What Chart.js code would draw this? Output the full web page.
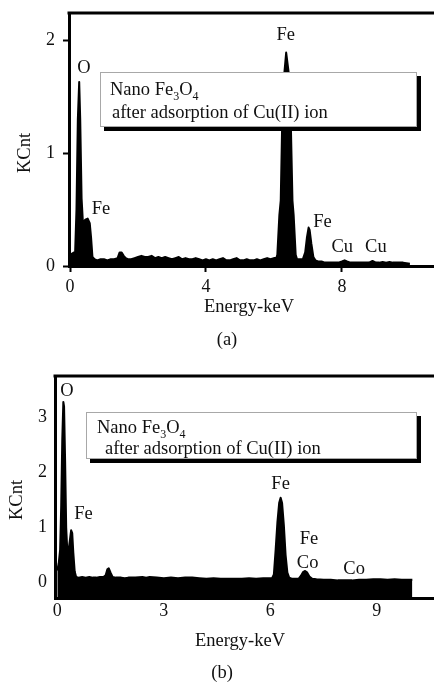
<!DOCTYPE html>
<html>
<head>
<meta charset="utf-8">
<script src="https://cdn.jsdelivr.net/npm/chart.js@4.4.1/dist/chart.umd.min.js"></script>
<style>
  html, body { margin: 0; padding: 0; background: #fff; overflow: hidden; }
  body { width: 434px; height: 683px; position: relative; }
  canvas { position: absolute; left: 0; }
  #cA { top: 0; }
  #cB { top: 340px; }
</style>
</head>
<body>
<canvas id="cA" width="434" height="360"></canvas>
<canvas id="cB" width="434" height="343"></canvas>
<script>
// ---------- Data: panel (a) ----------
const energyA = [0.00,0.06,0.12,0.15,0.19,0.23,0.27,0.30,0.34,0.38,0.45,0.52,0.58,0.62,0.66,0.72,0.80,0.90,1.00,1.10,1.20,1.30,1.40,1.46,1.52,1.58,1.64,1.70,1.80,1.90,2.00,2.10,2.20,2.30,2.40,2.50,2.60,2.70,2.80,2.90,3.00,3.10,3.20,3.30,3.40,3.50,3.60,3.70,3.80,3.90,4.00,4.10,4.20,4.30,4.40,4.50,4.60,4.70,4.80,4.90,5.00,5.10,5.20,5.30,5.40,5.50,5.60,5.70,5.80,5.90,6.00,6.07,6.10,6.16,6.20,6.24,6.31,6.36,6.38,6.43,6.50,6.545,6.58,6.64,6.68,6.75,6.85,6.92,6.97,7.02,7.05,7.10,7.16,7.22,7.30,7.40,7.50,7.60,7.70,7.80,7.90,8.00,8.08,8.15,8.25,8.40,8.55,8.70,8.80,8.90,9.00,9.10,9.20,9.30,9.40,9.50,9.60,9.70,9.80,9.90,10.00];
const countsA = [0.10,0.11,0.12,0.12,0.50,1.30,1.63,1.30,0.60,0.38,0.41,0.42,0.38,0.25,0.08,0.06,0.05,0.06,0.06,0.05,0.06,0.06,0.07,0.12,0.12,0.09,0.07,0.06,0.06,0.07,0.08,0.09,0.08,0.08,0.09,0.07,0.08,0.07,0.08,0.07,0.06,0.07,0.08,0.06,0.07,0.06,0.06,0.07,0.06,0.05,0.06,0.05,0.06,0.05,0.06,0.07,0.05,0.05,0.06,0.07,0.05,0.05,0.06,0.05,0.05,0.06,0.05,0.06,0.07,0.06,0.07,0.07,0.10,0.45,0.58,1.22,1.72,1.89,1.89,1.72,1.22,0.58,0.45,0.10,0.06,0.06,0.06,0.12,0.25,0.34,0.32,0.20,0.08,0.05,0.04,0.04,0.03,0.03,0.03,0.03,0.03,0.04,0.05,0.04,0.03,0.03,0.03,0.03,0.03,0.045,0.03,0.03,0.035,0.03,0.035,0.03,0.03,0.03,0.03,0.025,0.02];
const xTicksA = [0, 4, 8];
const yTicksA = [0, 1, 2];
const peakNamesA = ['O','Fe','Fe','Fe','Cu','Cu'];
const peakXA = [0.41, 6.35, 0.91, 7.43, 8.01, 9.00];
const peakYA = [1.75, 2.04, 0.50, 0.385, 0.164, 0.164];

// ---------- Data: panel (b) ----------
const energyB = [0.00,0.04,0.08,0.11,0.14,0.17,0.19,0.22,0.25,0.28,0.31,0.35,0.39,0.42,0.45,0.49,0.53,0.60,0.70,0.80,0.90,1.00,1.10,1.20,1.30,1.36,1.41,1.45,1.50,1.56,1.65,1.80,1.90,2.00,2.20,2.40,2.50,2.60,2.80,3.00,3.20,3.40,3.60,3.80,4.00,4.20,4.40,4.60,4.80,5.00,5.20,5.40,5.60,5.80,6.00,6.05,6.10,6.15,6.20,6.25,6.29,6.33,6.38,6.43,6.48,6.53,6.60,6.70,6.80,6.86,6.92,6.98,7.04,7.10,7.18,7.30,7.50,7.70,7.90,8.10,8.30,8.50,8.70,8.90,9.10,9.30,9.50,9.70,9.90,10.00];
const countsB = [0.22,0.35,0.60,1.40,2.60,3.28,3.20,2.20,1.00,0.60,0.55,0.75,0.95,0.90,0.55,0.20,0.10,0.09,0.10,0.09,0.10,0.09,0.09,0.10,0.10,0.13,0.24,0.26,0.18,0.10,0.09,0.09,0.08,0.09,0.09,0.10,0.09,0.10,0.09,0.08,0.09,0.08,0.09,0.09,0.08,0.07,0.08,0.07,0.07,0.07,0.07,0.08,0.07,0.08,0.08,0.08,0.15,0.60,1.10,1.45,1.54,1.45,1.05,0.50,0.18,0.09,0.07,0.07,0.07,0.12,0.19,0.21,0.18,0.11,0.07,0.06,0.05,0.05,0.04,0.04,0.04,0.05,0.05,0.06,0.06,0.05,0.06,0.05,0.05,0.05];
const xTicksB = [0, 3, 6, 9];
const yTicksB = [0, 1, 2, 3];
const peakNamesB = ['O','Fe','Fe','Fe','Co','Co'];
const peakXB = [0.27, 0.74, 6.29, 7.09, 7.05, 8.36];
const peakYB = [3.48, 1.245, 1.79, 0.79, 0.36, 0.236];

const legendLine1 = [['Nano Fe', false], ['3', true], ['O', false], ['4', true]];
const legendLine2 = 'after adsorption of Cu(II) ion';

const SERIF = '"Liberation Serif", "Times New Roman", serif';
const INK = '#111';

function drawRich(ctx, parts, x, y) {
  let cx = x;
  parts.forEach(([t, sub]) => {
    ctx.font = (sub ? '12px ' : '18.5px ') + SERIF;
    ctx.fillText(t, cx, sub ? y + 5 : y);
    cx += ctx.measureText(t).width;
  });
}

const deco = {
  id: 'deco',
  afterDraw(chart, args, o) {
    const {ctx, chartArea: ca, scales} = chart;
    ctx.save();
    // top frame line
    ctx.strokeStyle = '#000';
    ctx.lineWidth = 3;
    ctx.beginPath();
    ctx.moveTo(ca.left - 1.5, ca.top);
    ctx.lineTo(chart.width, ca.top);
    ctx.stroke();

    // peak labels
    ctx.fillStyle = INK;
    ctx.font = '18.5px ' + SERIF;
    ctx.textAlign = 'center';
    ctx.textBaseline = 'middle';
    o.names.forEach((n, i) => {
      ctx.fillText(n, scales.x.getPixelForValue(o.px[i]), scales.y.getPixelForValue(o.py[i]));
    });

    // legend box with shadow
    const b = o.box;
    ctx.fillStyle = '#000';
    ctx.fillRect(b.x + 4, b.y + 4, b.w, b.h);
    ctx.fillStyle = '#fff';
    ctx.fillRect(b.x, b.y, b.w, b.h);
    ctx.strokeStyle = '#a8a8a8';
    ctx.lineWidth = 1;
    ctx.strokeRect(b.x + 0.5, b.y + 0.5, b.w - 1, b.h - 1);
    ctx.fillStyle = INK;
    ctx.textAlign = 'left';
    ctx.textBaseline = 'alphabetic';
    drawRich(ctx, legendLine1, b.l1[0], b.l1[1]);
    ctx.font = '18.5px ' + SERIF;
    ctx.fillText(legendLine2, b.l2[0], b.l2[1]);

    // axis titles and caption
    ctx.font = '18.5px ' + SERIF;
    ctx.textAlign = 'center';
    ctx.fillText('Energy-keV', o.xt[0], o.xt[1]);
    ctx.fillText(o.cap[0], o.cap[1], o.cap[2]);
    ctx.save();
    ctx.translate(o.yt[0], o.yt[1]);
    ctx.rotate(-Math.PI / 2);
    ctx.textBaseline = 'middle';
    ctx.fillText('KCnt', 0, 0);
    ctx.restore();
    ctx.restore();
  }
};

function makeChart(id, ex, cy, cfg) {
  const pts = ex.map((e, i) => ({x: e, y: cy[i]}));
  return new Chart(document.getElementById(id), {
    type: 'line',
    data: { datasets: [{
      data: pts, borderColor: '#000', backgroundColor: '#000', borderWidth: 2,
      borderJoinStyle: 'round', pointRadius: 0, tension: 0, fill: cfg.fill
    }]},
    plugins: [deco],
    options: {
      responsive: false, animation: false, devicePixelRatio: 1,
      layout: { padding: { top: cfg.top, left: 0, right: 0, bottom: 0 } },
      plugins: { legend: {display: false}, tooltip: {enabled: false}, deco: cfg.deco },
      scales: {
        x: {
          type: 'linear', min: cfg.xmin, max: cfg.xmax,
          afterBuildTicks: s => { s.ticks = cfg.xticks.map(v => ({value: v})); },
          ticks: { font: {family: SERIF, size: 18}, color: INK, padding: cfg.xpad, maxRotation: 0 },
          grid: { display: true, drawOnChartArea: false, drawTicks: cfg.drawTicks, tickLength: 6, tickWidth: 2, tickColor: '#000' },
          border: { display: true, width: 3, color: '#000' },
          afterFit: s => { s.height = cfg.xh; s.paddingLeft = 0; s.paddingRight = 0; }
        },
        y: {
          type: 'linear', min: cfg.ymin, max: cfg.ymax,
          afterBuildTicks: s => { s.ticks = cfg.yticks.map(v => ({value: v})); },
          ticks: { font: {family: SERIF, size: 18}, color: INK, padding: 8 },
          grid: { display: true, drawOnChartArea: false, drawTicks: cfg.drawTicks, tickLength: 6, tickWidth: 2, tickColor: '#000' },
          border: { display: true, width: 3, color: '#000' },
          afterFit: s => { s.width = cfg.yw; s.paddingTop = 0; s.paddingBottom = 0; }
        }
      }
    }
  });
}

makeChart('cA', energyA, countsA, {
  fill: 'origin', top: 13, xmin: -0.03, xmax: 10.71, ymin: 0, ymax: 2.24,
  xticks: xTicksA, yticks: yTicksA, xpad: 4, drawTicks: true, xh: 94, yw: 69,
  deco: {
    names: peakNamesA, px: peakXA, py: peakYA,
    box: {x: 100, y: 72, w: 317, h: 55, l1: [110, 95], l2: [112, 118]},
    xt: [249, 312], yt: [25, 153], cap: ['(a)', 227, 345]
  }
});

makeChart('cB', energyB, countsB, {
  fill: 'start', top: 36, xmin: -0.065, xmax: 10.61, ymin: -0.28, ymax: 3.75,
  xticks: xTicksB, yticks: yTicksB, xpad: 2, drawTicks: false, xh: 85, yw: 55,
  deco: {
    names: peakNamesB, px: peakXB, py: peakYB,
    box: {x: 86, y: 72, w: 331, h: 47, l1: [97, 93], l2: [105, 114]},
    xt: [240, 306], yt: [17, 160], cap: ['(b)', 222, 338]
  }
});
</script>
</body>
</html>
